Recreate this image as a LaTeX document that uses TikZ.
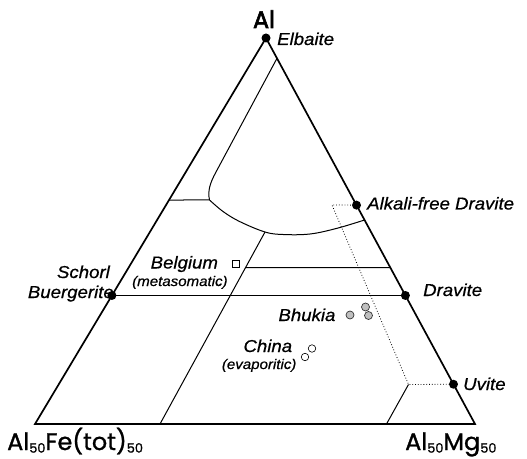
\documentclass[tikz,border=0pt]{standalone}
\usepackage{fontspec}
\setmainfont{Liberation Sans}
\newfontfamily\labfont[FakeStretch=1.08,FakeBold=0.6]{Liberation Sans}
\newfontfamily\comicfont[FakeBold=1.2]{Poppins}
\newfontfamily\comicbold[FakeBold=2.5]{Poppins}
\usetikzlibrary{calc}
\newcommand{\sbfifty}{\raisebox{-0.2ex}{\fontsize{13}{13}\selectfont 50}}
\begin{document}
\begin{tikzpicture}[x=1bp,y=-1bp,
  edge/.style={line width=1.7bp, line join=miter},
  bnd/.style={line width=1bp},
  dotl/.style={dotted, line width=0.8bp},
  vdot/.style={circle, fill=black, inner sep=0pt, minimum size=9bp},
  lab/.style={font=\labfont\itshape\fontsize{17.3}{19}\selectfont, inner sep=0pt},
  sublab/.style={font=\labfont\itshape\fontsize{14}{16}\selectfont, inner sep=0pt},
  corner/.style={font=\comicfont\fontsize{24}{26}\selectfont, inner sep=0pt},
  bhuk/.style={circle, fill=gray!50, draw=black!80, line width=0.7bp, inner sep=0pt, minimum size=8bp},
  chin/.style={circle, fill=white, draw=black, line width=0.6bp, inner sep=0pt, minimum size=7.5bp},
  sq/.style={rectangle, draw=black, line width=0.6bp, inner sep=0pt, minimum size=7bp}]
\useasboundingbox (0,0) rectangle (527,459);
% triangle
\coordinate (A) at (266,38);
\coordinate (L) at (35,424);
\coordinate (R) at (475,424);
% points on edges
\coordinate (pAFD) at ($(A)!0.433!(R)$);
\coordinate (pDra) at ($(A)!0.667!(R)$);
\coordinate (pUvi) at ($(A)!0.897!(R)$);
\coordinate (pSch) at ($(A)!0.667!(L)$);
\coordinate (pU1) at ($(A)!0.0526!(R)$);
\coordinate (pH1) at ($(A)!0.4197!(L)$);
\coordinate (pC2) at ($(A)!0.4715!(R)$);
\coordinate (pH2) at ($(A)!0.595!(R)$);
% inner boundary points
\coordinate (U2) at (216,172);
\coordinate (J) at (209.5,200);
\coordinate (K) at (265,232);
\coordinate (B1) at (160,424);
\coordinate (H2L) at ($(K)!0.186!(B1)$);
\coordinate (D1) at (332,205);
\coordinate (D2) at (408.5,384.5);
\coordinate (B2) at (386.5,424);

\draw[edge] (A) -- (L) -- (R) -- cycle;
\draw[bnd] (pU1) -- (U2) .. controls (210,183) and (207.5,191) .. (J);
\draw[bnd] (pH1) -- (J);
\draw[bnd] plot[smooth, tension=0.6] coordinates {(J) (223.3,211.7) (240,221.7) (K) (283,234.5) (310,234) (337,228.3) (pC2)};
\draw[bnd] (K) -- (B1);
\draw[bnd] (H2L) -- (pH2);
\draw[bnd] (pSch) -- (pDra);
\draw[dotl] (pAFD) -- (D1) -- (D2) -- (pUvi);
\draw[bnd] (D2) -- (B2);

% end-member dots
\node[vdot] (nElb) at (A) {};
\node[vdot] (nAFD) at (pAFD) {};
\node[vdot] (nDra) at (pDra) {};
\node[vdot] (nUvi) at (pUvi) {};
\node[vdot] (nSch) at (pSch) {};

% data points
\node[sq] (qBel) at (235.5,264) {};
\node[bhuk] (b1) at (350,315) {};
\node[bhuk] (b2) at (365.5,307) {};
\node[bhuk] (b3) at (368.5,315.5) {};
\node[chin] (c1) at (305,357) {};
\node[chin] (c2) at (312,348.5) {};

% labels
\node[font=\comicbold\fontsize{24}{26}\selectfont, inner sep=0pt, anchor=base] (tAl) at (264,28) {Al};
\node[lab, anchor=base west] (tElb) at (277,45) {Elbaite};
\node[lab, anchor=base west] (tAFD) at (367,209.5) {Alkali-free Dravite};
\node[lab, anchor=base west] (tDra) at (423,296) {Dravite};
\node[lab, anchor=base west] (tUvi) at (463,390) {Uvite};
\node[lab, anchor=base east] (tSch) at (110,278) {Schorl};
\node[lab, anchor=base east] (tBue) at (114,298) {Buergerite};
\node[lab, anchor=base west] (tBel) at (150.5,268.5) {Belgium};
\node[sublab, anchor=base west] (tMet) at (132,286) {(metasomatic)};
\node[lab, anchor=base west] (tBhu) at (278.3,321) {Bhukia};
\node[lab, anchor=base west] (tChi) at (243.3,352) {China};
\node[sublab, anchor=base west] (tEva) at (221.7,369) {(evaporitic)};
\node[corner, anchor=base west] (tFe) at (7,450) {Al\sbfifty Fe(tot)\sbfifty};
\node[corner, anchor=base west] (tMg) at (405,450) {Al\sbfifty Mg\sbfifty};
\end{tikzpicture}
\end{document}
